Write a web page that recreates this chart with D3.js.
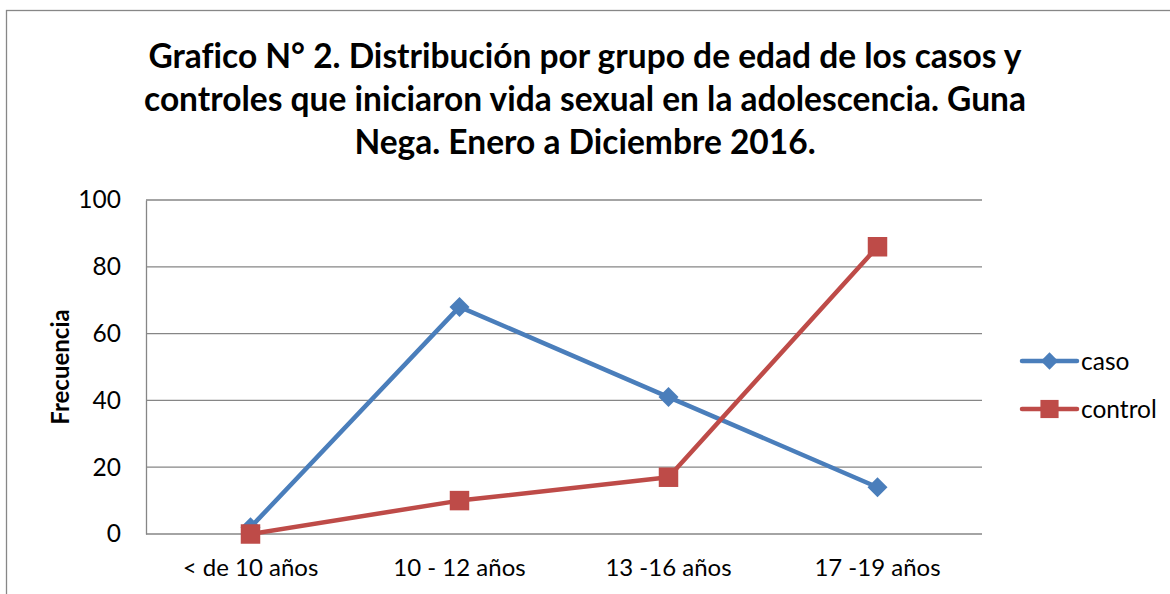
<!DOCTYPE html>
<html>
<head>
<meta charset="utf-8">
<script src="https://cdn.jsdelivr.net/npm/d3@7"></script>
<style>
  body { margin: 0; background: #fff; }
  text { font-family: Lato, "Open Sans", sans-serif; fill: #000; font-variant-ligatures: none; }
</style>
</head>
<body>
<div class="container"></div>
<script>
const categories = ["< de 10 años", "10 - 12 años", "13 -16 años", "17 -19 años"];
const caso = [2, 68, 41, 14];
const control = [0, 10, 17, 86];
const yTicks = [0, 20, 40, 60, 80, 100];
const titleLines = [
  "Grafico N° 2. Distribución por grupo de edad de los casos y",
  "controles que iniciaron vida sexual en la adolescencia. Guna",
  "Nega. Enero a Diciembre 2016."
];

const width = 1170;
const height = 594;
const plot = { left: 146, right: 982, top: 200, bottom: 534 };

const svg = d3
  .select(".container")
  .append("svg")
  .attr("width", width)
  .attr("height", height);

// chart border (runs off the bottom/right like the source)
svg.append("rect")
  .attr("x", 6.5).attr("y", 10.5)
  .attr("width", 1200).attr("height", 700)
  .attr("fill", "none").attr("stroke", "#878787").attr("stroke-width", 1.3);

// title
svg.append("g").selectAll("text")
  .data(titleLines)
  .enter()
  .append("text")
  .attr("x", 585)
  .attr("y", (d, i) => 68 + i * 43)
  .attr("text-anchor", "middle")
  .attr("font-size", 33.5)
  .attr("font-weight", "bold")
  .text((d) => d);

const xScale = d3.scaleBand().domain(categories).range([plot.left, plot.right]);
const yScale = d3.scaleLinear().domain([0, 100]).range([plot.bottom, plot.top]);

// gridlines
svg.append("g").selectAll("line")
  .data(yTicks)
  .enter()
  .append("line")
  .attr("x1", plot.left).attr("x2", plot.right)
  .attr("y1", (d) => yScale(d)).attr("y2", (d) => yScale(d))
  .attr("stroke", "#868686").attr("stroke-width", 1.3);

const yAxis = d3.axisLeft(yScale).tickValues(yTicks).tickSize(0).tickPadding(25);
const gy = svg.append("g").attr("transform", `translate(${plot.left},0)`).call(yAxis);
gy.select(".domain").attr("stroke", "#868686").attr("stroke-width", 1.3);
gy.selectAll("text").attr("font-size", 24.5).attr("font-family", "Lato, sans-serif");

const xAxis = d3.axisBottom(xScale).tickSize(0).tickPadding(25);
const gx = svg.append("g").attr("transform", `translate(0,${plot.bottom})`).call(xAxis);
gx.select(".domain").remove();
gx.selectAll("text").attr("font-size", 24).attr("font-family", "Lato, sans-serif");

svg.append("text")
  .attr("transform", `translate(69,${(plot.top + plot.bottom) / 2}) rotate(-90)`)
  .attr("text-anchor", "middle")
  .attr("font-size", 24)
  .attr("font-weight", "bold")
  .text("Frecuencia");

const cx = (d, i) => xScale(categories[i]) + xScale.bandwidth() / 2;
const line = d3.line().x((d, i) => cx(d, i)).y((d) => yScale(d));

const series = [
  { name: "caso", values: caso, color: "#4A7EBB", rotate: 45, size: 200, legendSize: 150 },
  { name: "control", values: control, color: "#BE4B48", rotate: 0, size: 380, legendSize: 330 }
];

series.forEach((s) => {
  svg.append("path")
    .datum(s.values)
    .attr("d", line)
    .attr("fill", "none")
    .attr("stroke", s.color)
    .attr("stroke-width", 4.5)
    .attr("stroke-linejoin", "round");
  svg.append("g").selectAll("path")
    .data(s.values)
    .enter()
    .append("path")
    .attr("d", d3.symbol().type(d3.symbolSquare).size(s.size))
    .attr("transform", (d, i) => `translate(${cx(d, i)},${yScale(d)}) rotate(${s.rotate})`)
    .attr("fill", s.color);
});

// legend
const legend = svg.append("g").selectAll("g")
  .data(series)
  .enter()
  .append("g")
  .attr("transform", (d, i) => `translate(1022,${361 + i * 48})`);
legend.append("line")
  .attr("x1", 0).attr("x2", 55)
  .attr("stroke", (d) => d.color).attr("stroke-width", 4.5).attr("stroke-linecap", "round");
legend.append("path")
  .attr("d", (d) => d3.symbol().type(d3.symbolSquare).size(d.legendSize)())
  .attr("transform", (d) => `translate(27.5,0) rotate(${d.rotate})`)
  .attr("fill", (d) => d.color);
legend.append("text")
  .attr("x", 59).attr("dy", "0.35em")
  .attr("font-size", 24.5)
  .text((d) => d.name);
</script>
</body>
</html>
